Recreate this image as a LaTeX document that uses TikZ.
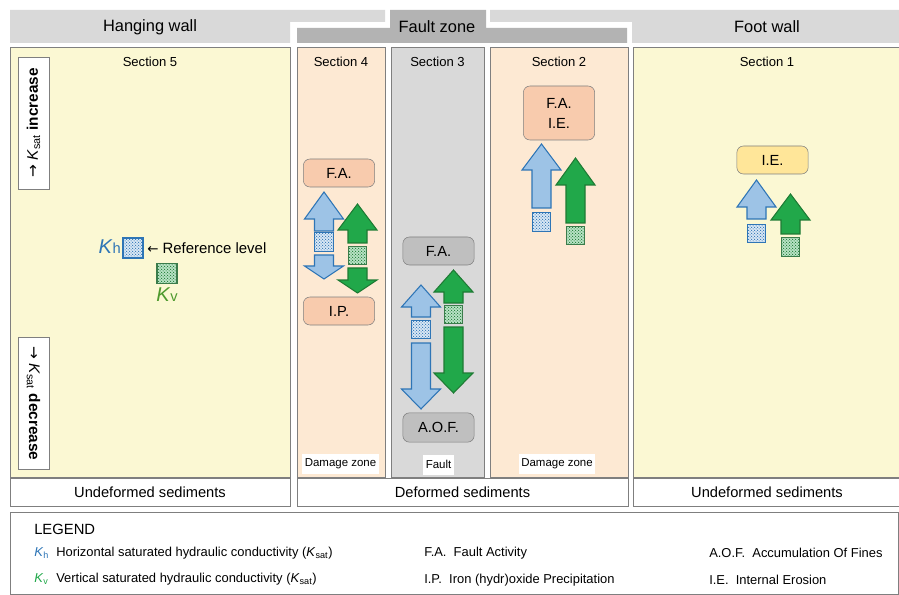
\documentclass[tikz,border=0pt]{standalone}
\usepackage{fontspec}
\setmainfont{Liberation Sans}
\newfontfamily\arrowfont{DejaVu Sans}
\usepackage{xcolor}
\usetikzlibrary{patterns}

\definecolor{hdrgrey}{HTML}{D9D9D9}
\definecolor{faultgrey}{HTML}{B3B3B3}
\definecolor{secyellow}{HTML}{FBF8D3}
\definecolor{secpeach}{HTML}{FDE9D3}
\definecolor{secgrey}{HTML}{D9D9D9}
\definecolor{boxsalmon}{HTML}{F8CBAD}
\definecolor{boxgrey}{HTML}{BFBFBF}
\definecolor{boxyellow}{HTML}{FFE699}
\definecolor{khblue}{HTML}{2E75B6}
\definecolor{khfill}{HTML}{9DC3E6}
\definecolor{kvgreen}{HTML}{1E7B34}
\definecolor{kvfill}{HTML}{21A84A}
\definecolor{kvtext}{HTML}{4E9A2E}
\definecolor{edgegrey}{HTML}{7F7F7F}

% dense stipple for the sample squares
\pgfdeclarepatternformonly{finedots}{\pgfqpoint{0pt}{0pt}}{\pgfqpoint{2.2pt}{2.2pt}}{\pgfqpoint{2.2pt}{2.2pt}}{
  \pgfpathcircle{\pgfqpoint{0.5pt}{0.5pt}}{0.45pt}
  \pgfpathcircle{\pgfqpoint{1.6pt}{1.6pt}}{0.45pt}
  \pgfusepath{fill}}

% block arrow: style, centre x, tip y, head base y, tail y
\newcommand{\blockarr}[5]{\draw[#1] (#2-9.5,#5) -- (#2-9.5,#4) -- (#2-19.5,#4) -- (#2,#3)
    -- (#2+19.5,#4) -- (#2+9.5,#4) -- (#2+9.5,#5) -- cycle;}

\begin{document}
\begin{tikzpicture}[x=0.75pt, y=-0.75pt,
    section/.style={draw=edgegrey, line width=0.75pt},
    title/.style={font=\fontsize{9.8}{11}\selectfont},
    header/.style={font=\fontsize{12.3}{14}\selectfont},
    process/.style={draw=edgegrey, rounded corners=5pt, minimum width=53.5pt, minimum height=21pt,
        inner sep=1pt, align=center, font=\fontsize{11}{13}\selectfont},
    zonelabel/.style={fill=white, minimum height=15pt, inner sep=2pt, font=\fontsize{8.6}{10}\selectfont},
    khsq/.style={draw=khblue, line width=0.8pt, minimum size=14pt, inner sep=0pt,
        preaction={fill=khfill!35}, pattern=finedots, pattern color=khblue},
    kvsq/.style={draw=kvgreen!70!gray, line width=0.8pt, minimum size=14pt, inner sep=0pt,
        preaction={fill=kvfill!30}, pattern=finedots, pattern color=kvgreen},
    kharrow/.style={draw=khblue, fill=khfill, line width=0.8pt, line join=miter},
    kvarrow/.style={draw=kvgreen, fill=kvfill, line width=0.8pt, line join=miter},
    legendtext/.style={anchor=west, inner sep=0pt, font=\fontsize{9.7}{11}\selectfont}
]
\useasboundingbox (0,0) rectangle (899,595);

% header bands
\fill[hdrgrey] (10,10) -- (385,10) -- (385,22) -- (290,22) -- (290,43) -- (10,43) -- cycle;
\fill[faultgrey] (390,10) -- (486,10) -- (486,28) -- (627,28) -- (627,43) -- (297,43) -- (297,28) -- (390,28) -- cycle;
\fill[hdrgrey] (490,10) -- (899,10) -- (899,43) -- (632,43) -- (632,22) -- (490,22) -- cycle;
\node[header] (hw) at (150,27) {Hanging wall};
\node[header] (fz) at (437,27) {Fault zone};
\node[header] (fw) at (767,27) {Foot wall};

% sections
\draw[section, fill=secyellow] (10,48) rectangle (290,477);
\draw[section, fill=secpeach] (297,48) rectangle (385,477);
\draw[section, fill=secgrey] (391,48) rectangle (484,477);
\draw[section, fill=secpeach] (490,48) rectangle (628,477);
\draw[section, fill=secyellow] (633,48) rectangle (899,477);
\node[title] (s5) at (150,62) {Section 5};
\node[title] (s4) at (341,62) {Section 4};
\node[title] (s3) at (437.5,62) {Section 3};
\node[title] (s2) at (559,62) {Section 2};
\node[title] (s1) at (767,62) {Section 1};

% sediments
\draw[section, fill=white] (10,478) rectangle (290,506);
\draw[section, fill=white] (297,478) rectangle (628,506);
\draw[section, fill=white] (633,478) rectangle (899,506);
\node[font=\fontsize{11}{13}\selectfont] (und1) at (150,492) {Undeformed sediments};
\node[font=\fontsize{11}{13}\selectfont] (def) at (462.5,492) {Deformed sediments};
\node[font=\fontsize{11}{13}\selectfont] (und2) at (767,492) {Undeformed sediments};

% section 5: reference level
\node[draw=edgegrey, fill=white, rotate=90, minimum width=99pt, minimum height=23pt, inner sep=0pt,
    font=\fontsize{11.5}{13}\selectfont] (incr) at (33.5,123)
    {{\arrowfont →} \textit{K}\textsubscript{sat} \textbf{increase}};
\node[draw=edgegrey, fill=white, rotate=-90, minimum width=99pt, minimum height=23pt, inner sep=0pt,
    font=\fontsize{11.5}{13}\selectfont] (decr) at (33.5,403.5)
    {{\arrowfont →} \textit{K}\textsubscript{sat} \textbf{decrease}};
\node[khsq, minimum size=15pt] (h5) at (133,248) {};
\node[kvsq, minimum size=15pt] (v5) at (167,273.5) {};
\node[anchor=east, inner sep=0pt, text=khblue] (khlab) at (121,247)
    {\fontsize{15}{15}\selectfont\textit{K}\fontsize{11}{11}\selectfont h};
\node[anchor=west, inner sep=0pt, font=\fontsize{11.2}{13}\selectfont] (ref) at (147,248)
    {{\arrowfont\fontsize{10}{12}\selectfont ←} Reference level};
\node[inner sep=0pt, text=kvtext] (kvlab) at (167,295)
    {\fontsize{15}{15}\selectfont\textit{K}\fontsize{11}{11}\selectfont v};

% section 4: damage zone
\node[process, fill=boxsalmon] (fa4) at (339,173) {F.A.};
\node[process, fill=boxsalmon] (ip4) at (339,311) {I.P.};
\blockarr{kharrow}{324}{192}{219}{231}
\blockarr{kharrow}{324}{279}{266}{255}
\blockarr{kvarrow}{357.5}{204}{230}{243}
\blockarr{kvarrow}{357.5}{293}{280}{268}
\node[khsq] (h4) at (324,242) {};
\node[kvsq] (v4) at (357.5,255.5) {};
\node[zonelabel] (dz4) at (340.5,464) {Damage zone};

% section 3: fault
\node[process, fill=boxgrey] (fa3) at (438.5,251) {F.A.};
\node[process, fill=boxgrey, minimum height=22pt] (aof3) at (438.5,427.5) {A.O.F.};
\blockarr{kharrow}{421}{285}{307}{317}
\blockarr{kharrow}{421}{409}{389}{343}
\blockarr{kvarrow}{453.5}{270}{292}{303}
\blockarr{kvarrow}{453.5}{393}{373}{327}
\node[khsq] (h3) at (421,329.5) {};
\node[kvsq] (v3) at (453.5,314.5) {};
\node[zonelabel] (fl3) at (438.5,464.5) {Fault};

% section 2: damage zone
\node[process, fill=boxsalmon, minimum height=40.5pt, font=\fontsize{11}{15}\selectfont] (fa2) at (559,113) {F.A.\\I.E.};
\blockarr{kharrow}{541.5}{144}{170}{208}
\blockarr{kvarrow}{575.5}{158}{185}{223}
\node[khsq] (h2) at (541.5,222) {};
\node[kvsq] (v2) at (575.5,235.5) {};
\node[zonelabel] (dz2) at (557,464) {Damage zone};

% section 1: foot wall
\node[process, fill=boxyellow] (ie1) at (772.5,160) {I.E.};
\blockarr{kharrow}{756.5}{180}{207}{219}
\blockarr{kvarrow}{790.5}{194}{220}{234}
\node[khsq] (h1) at (756.5,233.5) {};
\node[kvsq] (v1) at (790.5,247) {};

% legend
\draw[section] (10,512) rectangle (898,594.5);
\node[legendtext, font=\fontsize{11.1}{13}\selectfont] (leg) at (34,529) {LEGEND};
\node[legendtext, text=khblue] (lkh) at (34,553) {\textit{K}\textsubscript{h}};
\node[legendtext] (lkhtxt) at (56,553) {Horizontal saturated hydraulic conductivity (\textit{K}\textsubscript{sat})};
\node[legendtext, text=kvfill] (lkv) at (34,579) {\textit{K}\textsubscript{v}};
\node[legendtext] (lkvtxt) at (56,579) {Vertical saturated hydraulic conductivity (\textit{K}\textsubscript{sat})};
\node[legendtext] (lfa) at (424,553) {F.A.\ \ Fault Activity};
\node[legendtext] (lip) at (424,580) {I.P.\ \ Iron (hydr)oxide Precipitation};
\node[legendtext] (laof) at (709,553) {A.O.F.\ \ Accumulation Of Fines};
\node[legendtext] (lie) at (709,580) {I.E.\ \ Internal Erosion};
\end{tikzpicture}
\end{document}
